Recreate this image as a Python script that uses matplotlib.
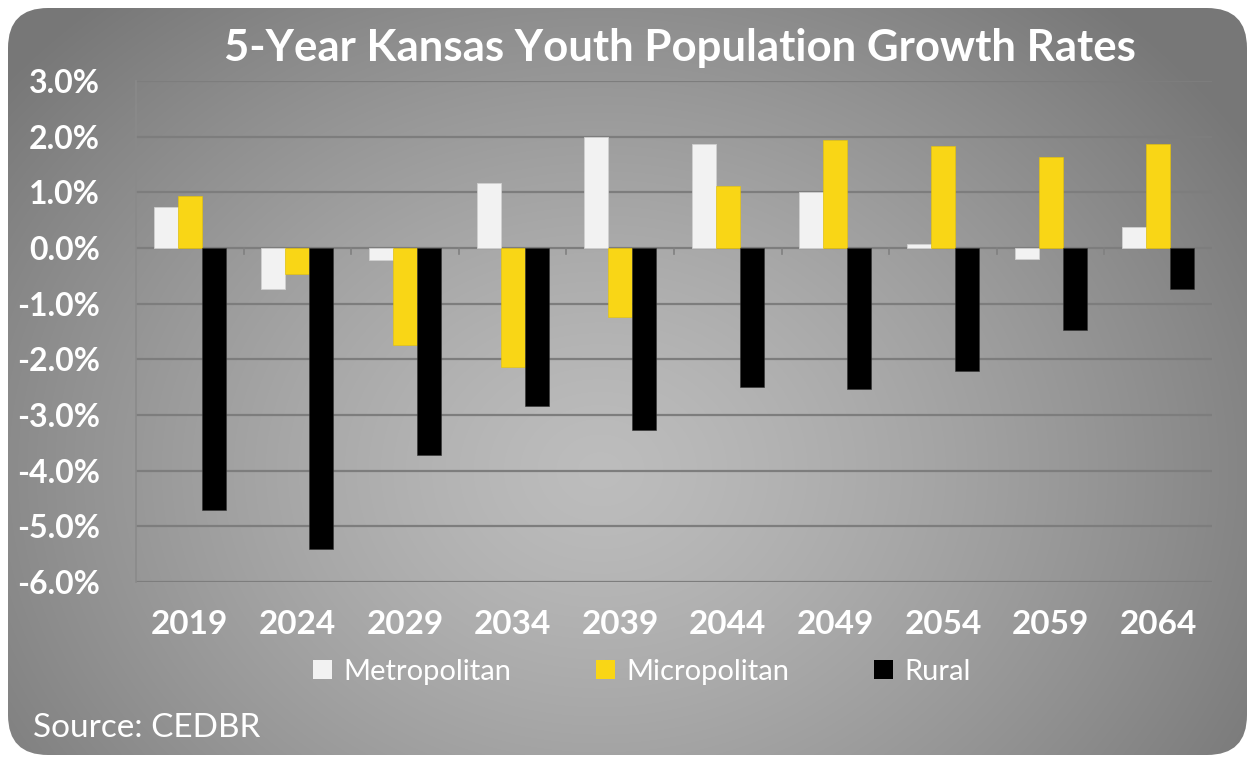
import numpy as np
import matplotlib
matplotlib.use("Agg")
import matplotlib.pyplot as plt
from matplotlib.patches import FancyBboxPatch, Patch
from matplotlib.ticker import FuncFormatter, MultipleLocator

years = ["2019", "2024", "2029", "2034", "2039", "2044", "2049", "2054", "2059", "2064"]
metropolitan = [0.74, -0.74, -0.22, 1.17, 2.00, 1.86, 1.00, 0.07, -0.20, 0.37]
micropolitan = [0.93, -0.47, -1.74, -2.14, -1.24, 1.12, 1.94, 1.84, 1.64, 1.87]
rural = [-4.71, -5.41, -3.72, -2.84, -3.27, -2.50, -2.54, -2.21, -1.47, -0.74]

title = "5-Year Kansas Youth Population Growth Rates"
source = "Source: CEDBR"

FONT = "Lato"
W, H = 1255, 761
fig = plt.figure(figsize=(W / 100, H / 100), dpi=100)
fig.patch.set_facecolor("white")

# background with radial gradient in a rounded box
bg = fig.add_axes([0, 0, 1, 1])
bg.set_xlim(0, W)
bg.set_ylim(H, 0)
bg.axis("off")
yy, xx = np.mgrid[0:H, 0:W]
cx, cy = 600, 470
r = np.sqrt(((xx - cx) / 760.0) ** 2 + ((yy - cy) / 620.0) ** 2)
r = np.clip(r, 0, 1)
light, dark = 0.74, 0.47
val = light - (light - dark) * r ** 1.3
img = np.dstack([val, val, val])
box = FancyBboxPatch((8, 8), W - 16, H - 14, boxstyle="round,pad=0,rounding_size=40",
                     transform=bg.transData, facecolor="none", edgecolor="none")
bg.add_patch(box)
im = bg.imshow(img, extent=(0, W, H, 0), interpolation="bilinear", zorder=0)
im.set_clip_path(box)

ax = fig.add_axes([136 / W, 1 - 582 / H, (1212 - 136) / W, (582 - 81) / H])
ax.set_facecolor("none")
x = np.arange(len(years))
bw = 0.223
ax.bar(x - bw, metropolitan, bw, color="#f2f2f2", edgecolor="#d0d0d0", linewidth=0.6, zorder=3, label="Metropolitan")
ax.bar(x, micropolitan, bw, color="#f9d616", edgecolor="#e8c400", linewidth=0.4, zorder=3, label="Micropolitan")
ax.bar(x + bw, rural, bw, color="#000000", edgecolor="#333333", linewidth=0.4, zorder=3, label="Rural")

ax.set_xlim(-0.5, len(years) - 0.5)
ax.set_ylim(-6, 3)
ax.yaxis.set_major_locator(MultipleLocator(1))
ax.yaxis.set_major_formatter(FuncFormatter(lambda v, p: f"{v:.1f}%"))
ax.grid(axis="y", color="#7d7d7d", linewidth=1.6, zorder=1)
for s in ["top", "right", "bottom"]:
    ax.spines[s].set_visible(False)
ax.spines["left"].set_color("#8a8a8a")
ax.spines["left"].set_linewidth(1.2)
ax.tick_params(axis="y", length=0, pad=26, labelcolor="white", labelsize=23)
ax.tick_params(axis="x", length=0, pad=20, labelcolor="white", labelsize=24)
ax.set_xticks(x)
ax.set_xticklabels(years)
for lab in ax.get_yticklabels() + ax.get_xticklabels():
    lab.set_fontweight("bold")
    lab.set_family(FONT)
for lab in ax.get_yticklabels():
    lab.set_horizontalalignment("right")
# category boundary tick marks below zero
for b in np.arange(0.5, len(years) - 0.5, 1):
    ax.plot([b, b], [0, -0.11], color="#808080", linewidth=1.2, zorder=2)

fig.text(680 / W, 1 - 48 / H, title, ha="center", va="center", color="white",
         fontsize=31.5, fontweight="bold", family=FONT)

handles = [Patch(facecolor="#f2f2f2", edgecolor="none"),
           Patch(facecolor="#f9d616", edgecolor="none"),
           Patch(facecolor="#000000", edgecolor="none")]
leg = fig.legend(handles, ["Metropolitan", "Micropolitan", "Rural"], loc="center",
                 bbox_to_anchor=(642 / W, 1 - 672 / H), ncol=3, frameon=False,
                 handlelength=0.65, handleheight=0.65, handletextpad=0.4,
                 columnspacing=2.9, prop={"family": FONT, "size": 21})
for t in leg.get_texts():
    t.set_color("white")

fig.text(33 / W, 1 - 728 / H, source, ha="left", va="center", color="white",
         fontsize=24, family=FONT)

fig.savefig("out.png", dpi=100, facecolor="white")
